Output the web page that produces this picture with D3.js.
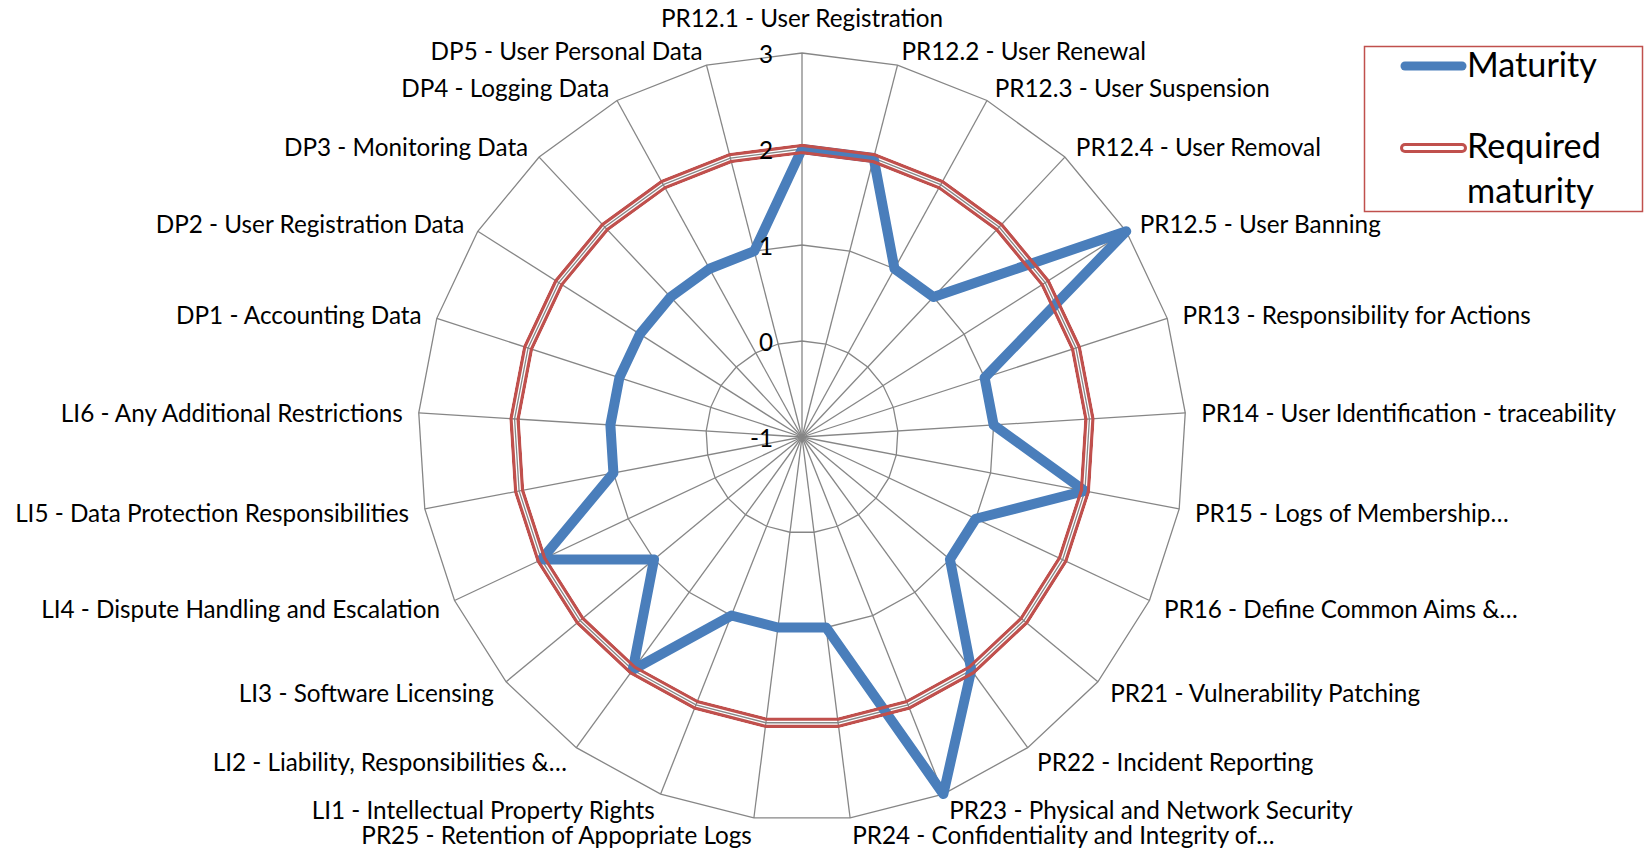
<!DOCTYPE html>
<html>
<head>
<meta charset="utf-8">
<script src="https://cdn.jsdelivr.net/npm/d3@7"></script>
<style>
  body { margin: 0; background: #fff; }
  text { font-family: Lato, "Open Sans", sans-serif; fill: #000; }
</style>
</head>
<body>
<svg id="radar" width="1645" height="849"></svg>
<script>
// axis categories, clockwise from the top
var categories = [
  "PR12.1 - User Registration",
  "PR12.2 - User Renewal",
  "PR12.3 - User Suspension",
  "PR12.4 - User Removal",
  "PR12.5 - User Banning",
  "PR13 - Responsibility for Actions",
  "PR14 - User Identification - traceability",
  "PR15 - Logs of Membership…",
  "PR16 - Define Common Aims &…",
  "PR21 - Vulnerability Patching",
  "PR22 - Incident Reporting",
  "PR23 - Physical and Network Security",
  "PR24 - Confidentiality and Integrity of…",
  "PR25 - Retention of Appopriate Logs",
  "LI1 - Intellectual Property Rights",
  "LI2 - Liability, Responsibilities &…",
  "LI3 - Software Licensing",
  "LI4 - Dispute Handling and Escalation",
  "LI5 - Data Protection Responsibilities",
  "LI6 - Any Additional Restrictions",
  "DP1 - Accounting Data",
  "DP2 - User Registration Data",
  "DP3 - Monitoring Data",
  "DP4 - Logging Data",
  "DP5 - User Personal Data"
];

var maturity = [2, 2, 1, 1, 3, 1, 1, 2, 1, 1, 2, 3, 1, 1, 1, 2, 1, 2, 1, 1, 1, 1, 1, 1, 1];
var required = [2, 2, 2, 2, 2, 2, 2, 2, 2, 2, 2, 2, 2, 2, 2, 2, 2, 2, 2, 2, 2, 2, 2, 2, 2];

var ticks = [-1, 0, 1, 2, 3];
var seriesNames = ["Maturity", "Required maturity"];

var blue = "#4a7ebb", red = "#c0504d", grid = "#868686";

var svg = d3.select("#radar"),
    cx = 802, cy = 437,
    outer = 384,
    g = svg.append("g").attr("transform", "translate(" + cx + "," + cy + ")");

var n = categories.length,
    step = 2 * Math.PI / n;

var r = d3.scaleLinear()
    .domain([ticks[0], ticks[ticks.length - 1]])
    .range([0, outer]);

var radial = d3.lineRadial()
    .angle(function(d, i) { return i * step; })
    .radius(function(d) { return r(d); })
    .curve(d3.curveLinearClosed);

// fit the fallback font to the width the labels have in the original
function fitSize(txt, target) {
  var t = svg.append("text").attr("font-size", 100).text(txt);
  var w = t.node().getComputedTextLength();
  t.remove();
  return 100 * target / w;
}
var labelSize = fitSize(categories[6], 415),
    legendSize = fitSize("Maturity", 130);

// rings
g.append("g")
  .selectAll("path")
  .data(ticks.slice(1))
  .enter().append("path")
    .attr("d", function(v) { return radial(categories.map(function() { return v; })); })
    .attr("fill", "none")
    .attr("stroke", grid)
    .attr("stroke-width", 1.3);

// spokes
g.append("g")
  .selectAll("line")
  .data(categories)
  .enter().append("line")
    .attr("x1", 0).attr("y1", 0)
    .attr("x2", function(d, i) { return r.range()[1] * Math.sin(i * step); })
    .attr("y2", function(d, i) { return -r.range()[1] * Math.cos(i * step); })
    .attr("stroke", grid)
    .attr("stroke-width", 1.3);

// category labels
var labelR = outer + 16;
g.append("g")
  .selectAll("text")
  .data(categories)
  .enter().append("text")
    .attr("font-size", labelSize)
    .attr("x", function(d, i) { return labelR * Math.sin(i * step); })
    .attr("y", function(d, i) {
      var y = -labelR * Math.cos(i * step);
      return i === 0 ? y - 10 : y + 1;
    })
    .attr("dominant-baseline", function(d, i) { return i === 0 ? "auto" : "central"; })
    .attr("text-anchor", function(d, i) {
      var s = Math.sin(i * step);
      return Math.abs(s) < 1e-6 ? "middle" : (s > 0 ? "start" : "end");
    })
    .text(function(d) { return d; });

// Maturity series
g.append("path")
    .attr("d", radial(maturity))
    .attr("fill", "none")
    .attr("stroke", blue)
    .attr("stroke-width", 10)
    .attr("stroke-linejoin", "round");

// Required maturity: double line, the middle left open
var mask = svg.append("defs").append("mask")
    .attr("id", "double")
    .attr("maskUnits", "userSpaceOnUse")
    .attr("x", -cx).attr("y", -cy).attr("width", 1645).attr("height", 849);
mask.append("path")
    .attr("d", radial(required))
    .attr("fill", "none").attr("stroke", "#fff").attr("stroke-width", 10.5);
mask.append("path")
    .attr("d", radial(required))
    .attr("fill", "none").attr("stroke", "#000").attr("stroke-width", 3.8);

g.append("path")
    .attr("d", radial(required))
    .attr("mask", "url(#double)")
    .attr("fill", "none")
    .attr("stroke", red)
    .attr("stroke-width", 10.5);

// value ticks on the top spoke
g.append("g")
  .selectAll("text")
  .data(ticks)
  .enter().append("text")
    .attr("font-size", labelSize)
    .attr("x", -29)
    .attr("y", function(v) { return -r(v); })
    .attr("dominant-baseline", "central")
    .attr("text-anchor", "end")
    .text(function(v) { return v; });

// legend
var legend = svg.append("g");
legend.append("rect")
    .attr("x", 1364.5).attr("y", 46.5)
    .attr("width", 278).attr("height", 165)
    .attr("fill", "#fff")
    .attr("stroke", red)
    .attr("stroke-width", 1.5);

legend.append("line")
    .attr("x1", 1405).attr("x2", 1462).attr("y1", 66).attr("y2", 66)
    .attr("stroke", blue).attr("stroke-width", 9).attr("stroke-linecap", "round");
legend.append("line")
    .attr("x1", 1405).attr("x2", 1462).attr("y1", 148).attr("y2", 148)
    .attr("stroke", red).attr("stroke-width", 10).attr("stroke-linecap", "round");
legend.append("line")
    .attr("x1", 1405).attr("x2", 1462).attr("y1", 148).attr("y2", 148)
    .attr("stroke", "#fff").attr("stroke-width", 4).attr("stroke-linecap", "round");

legend.append("text")
    .attr("font-size", legendSize)
    .attr("x", 1467).attr("y", 77)
    .text(seriesNames[0]);
legend.append("text")
    .attr("font-size", legendSize)
    .attr("x", 1467).attr("y", 158)
    .text(seriesNames[1].split(" ")[0]);
legend.append("text")
    .attr("font-size", legendSize)
    .attr("x", 1467).attr("y", 203)
    .text(seriesNames[1].split(" ")[1]);
</script>
</body>
</html>
